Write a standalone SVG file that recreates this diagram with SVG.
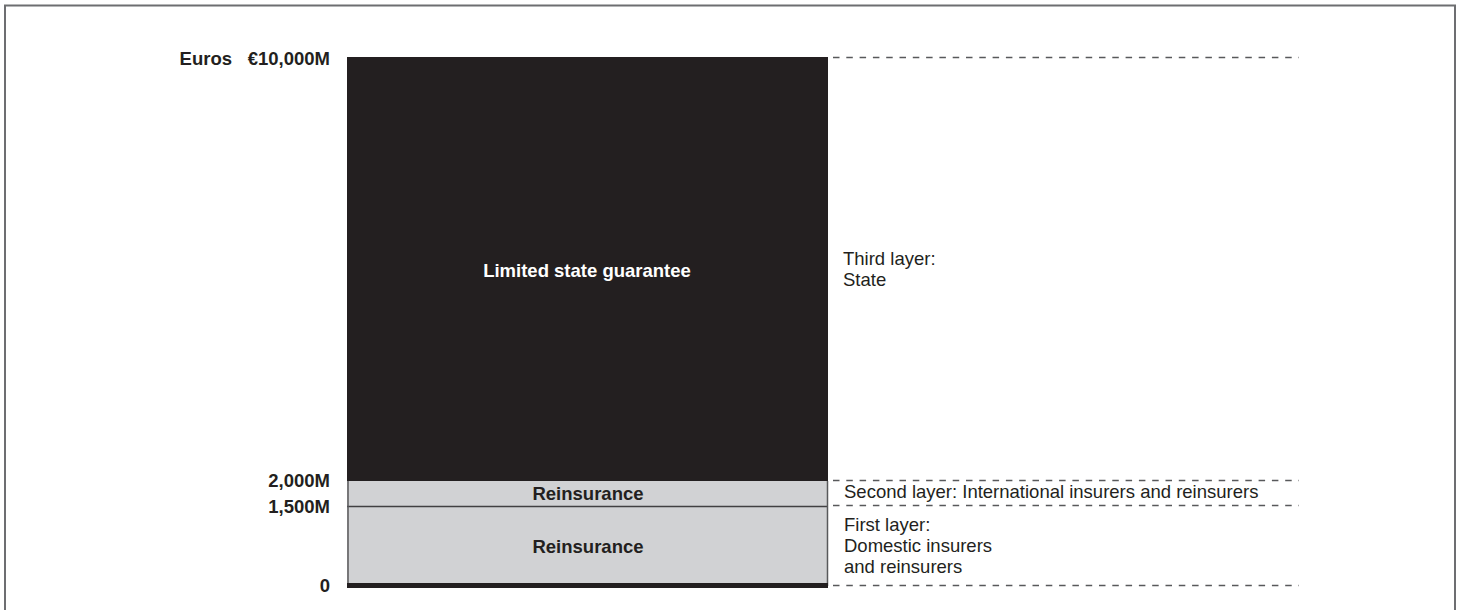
<svg xmlns="http://www.w3.org/2000/svg" width="1460" height="610" viewBox="0 0 1460 610">
<style>
.b{font-family:"Liberation Sans",Arial,sans-serif;font-weight:bold;font-size:18.5px;fill:#231f20}
.r{font-family:"Liberation Sans",Arial,sans-serif;font-size:18.5px;fill:#231f20}
.w{fill:#fff}
.d{stroke:#58595b;stroke-width:1.3;stroke-dasharray:6.5,6.8;fill:none}
</style>
<rect x="5" y="5.5" width="1450" height="640" fill="#fff" stroke="#6d6e71" stroke-width="2"/>
<g id="axis">
<text class="b" x="232" y="65" text-anchor="end">Euros</text>
<text class="b" x="330" y="65" text-anchor="end">€10,000M</text>
<text class="b" x="330" y="487" text-anchor="end">2,000M</text>
<text class="b" x="330" y="513" text-anchor="end">1,500M</text>
<text class="b" x="330" y="592" text-anchor="end">0</text>
</g>
<g id="state">
<rect x="347" y="57" width="481" height="424" fill="#231f20"/>
<text class="b w" x="587" y="277" text-anchor="middle">Limited state guarantee</text>
</g>
<g id="reins2">
<rect x="347" y="481" width="481" height="25" fill="#d1d2d4"/>
<text class="b" x="588" y="500" text-anchor="middle">Reinsurance</text>
</g>
<g id="reins1">
<rect x="347" y="506" width="481" height="77" fill="#d1d2d4"/>
<text class="b" x="588" y="553" text-anchor="middle">Reinsurance</text>
</g>
<g id="edges">
<line x1="347" y1="506.5" x2="828" y2="506.5" stroke="#414042" stroke-width="1.3"/>
<line x1="348" y1="481" x2="348" y2="585" stroke="#58595b" stroke-width="1.5"/>
<line x1="827.5" y1="481" x2="827.5" y2="586" stroke="#58595b" stroke-width="1.5"/>
<rect x="347" y="583" width="481" height="5" fill="#231f20"/>
</g>
<g id="connectors">
<line class="d" x1="833" y1="57.5" x2="1299" y2="57.5"/>
<line class="d" x1="833" y1="480.5" x2="1299" y2="480.5"/>
<line class="d" x1="833" y1="505.5" x2="1299" y2="505.5"/>
<line class="d" x1="833" y1="585.5" x2="1299" y2="585.5"/>
</g>
<g id="labels">
<text class="r" x="843" y="265">Third layer:</text>
<text class="r" x="843" y="286">State</text>
<text class="r" x="844" y="498">Second layer: International insurers and reinsurers</text>
<text class="r" x="844" y="531">First layer:</text>
<text class="r" x="844" y="552">Domestic insurers</text>
<text class="r" x="844" y="573">and reinsurers</text>
</g>
</svg>
